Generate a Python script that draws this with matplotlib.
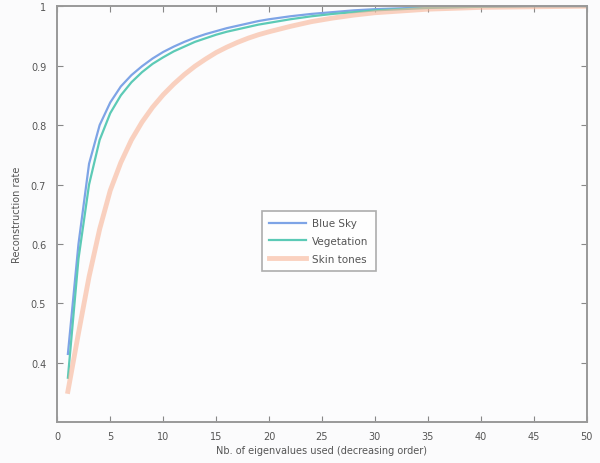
import numpy as np
import matplotlib
matplotlib.use("Agg")
import matplotlib.pyplot as plt

# number of eigenvalues used
n_eig = [1, 2, 3, 4, 5, 6, 7, 8, 9, 10, 11, 12, 13, 14, 15, 16, 17, 18, 19, 20,
         22, 24, 26, 28, 30, 35, 40, 45, 50]

blue_sky = [0.415, 0.60, 0.735, 0.80, 0.838, 0.865, 0.884, 0.899, 0.912, 0.923,
            0.932, 0.940, 0.947, 0.953, 0.958, 0.963, 0.967, 0.971, 0.975, 0.978,
            0.983, 0.987, 0.990, 0.993, 0.995, 0.998, 0.999, 1.0, 1.0]
vegetation = [0.375, 0.575, 0.70, 0.775, 0.82, 0.85, 0.872, 0.889, 0.903, 0.914,
              0.924, 0.932, 0.940, 0.946, 0.952, 0.957, 0.961, 0.965, 0.969, 0.972,
              0.978, 0.983, 0.987, 0.990, 0.993, 0.997, 0.999, 1.0, 1.0]
skin_tones = [0.352, 0.45, 0.545, 0.625, 0.69, 0.737, 0.775, 0.805, 0.83, 0.851,
              0.869, 0.885, 0.899, 0.911, 0.922, 0.931, 0.939, 0.946, 0.952, 0.957,
              0.966, 0.974, 0.980, 0.985, 0.989, 0.995, 0.998, 0.999, 1.0]

labels = ["Blue Sky", "Vegetation", "Skin tones"]
xticks = [0, 5, 10, 15, 20, 25, 30, 35, 40, 45, 50]
yticks = [0.4, 0.5, 0.6, 0.7, 0.8, 0.9, 1.0]
ytick_labels = ["0.4", "0.5", "0.6", "0.7", "0.8", "0.9", "1"]

txt = "#555555"
fig = plt.figure(figsize=(6, 4.64), dpi=100, facecolor="#fbfbfc")
ax = fig.add_axes([0.0955, 0.0877, 0.8823, 0.8968])
ax.set_facecolor("#fcfcfd")

ax.plot(n_eig, blue_sky, color="#7ea4e6", lw=1.6, label=labels[0])
ax.plot(n_eig, vegetation, color="#5ccab6", lw=1.6, label=labels[1])
ax.plot(n_eig, skin_tones, color="#f8b496", lw=3.5, alpha=0.6, label=labels[2])

ax.set_xlim(0, 50)
ax.set_ylim(0.3, 1.0)
ax.set_xticks(xticks)
ax.set_yticks(yticks)
ax.set_yticklabels(ytick_labels)
ax.tick_params(direction="in", top=True, right=True, length=4, width=0.8,
               colors="#888888", labelcolor=txt, labelsize=7)
ax.tick_params(axis="x", pad=6)
ax.tick_params(axis="y", pad=8)
for s in ax.spines.values():
    s.set_color("#999999")
    s.set_linewidth(1.4)

ax.set_xlabel("Nb. of eigenvalues used (decreasing order)", fontsize=7, color=txt, labelpad=3)
ax.set_ylabel("Reconstruction rate", fontsize=7, color=txt, labelpad=6)

leg = ax.legend(loc="upper left", bbox_to_anchor=(0.387, 0.508), borderaxespad=0,
                fontsize=7.5, frameon=True, fancybox=False, handlelength=3.5,
                handletextpad=0.6, labelcolor=txt, borderpad=0.7, labelspacing=0.75)
leg.get_frame().set_edgecolor("#999999")
leg.get_frame().set_linewidth(1.2)

fig.savefig("out.png", dpi=100, facecolor=fig.get_facecolor())
